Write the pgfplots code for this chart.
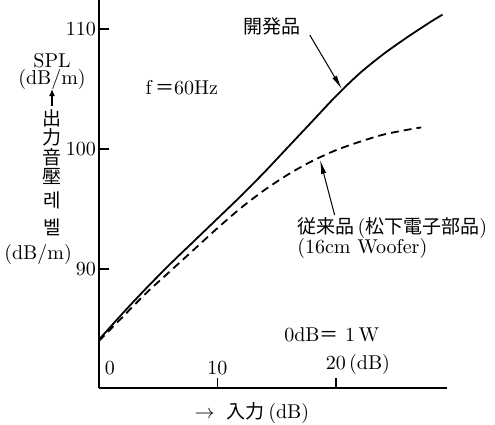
\documentclass[border=0pt]{standalone}
\usepackage{pgfplots}
\pgfplotsset{compat=1.18}
\usepackage{fontspec}
\newfontfamily\cjk[Scale=0.95]{Noto Sans CJK JP}
\usetikzlibrary{arrows.meta}

\begin{document}
\begin{tikzpicture}
\begin{axis}[
    scale only axis,
    width=173.95pt, height=193.85pt,
    xmin=0, xmax=29.36,
    ymin=80.11, ymax=112.42,
    axis x line=bottom, axis y line=left,
    axis line style={-, line width=0.8pt},
    xtick={0,10,20},
    xticklabels={\hspace*{11pt}0, 10, 20\rlap{\,(dB)}},
    ytick={90,100,110},
    tick align=inside,
    major tick length=5pt,
    tick style={line width=0.7pt, black},
    xticklabel style={anchor=south, yshift=3pt},
    yticklabel style={xshift=2pt},
    xlabel={$\rightarrow$\; {\cjk 入力}\,(dB)},
    xlabel style={at={(rel axis cs:0.44,0)}, anchor=center, yshift=-12.6pt},
    clip=false,
]
% new product (solid)
\addplot[black, line width=0.9pt, smooth] coordinates {
    (0,84.1) (2,86.3) (4,88.4) (6,90.4) (8,92.3) (10,94.2)
    (12,96.1) (14,98.1) (16,100.2) (18,102.3) (20,104.4)
    (22,106.3) (24,107.9) (26,109.3) (28,110.6) (29,111.2)};
% conventional product (dashed)
\addplot[black, line width=0.9pt, smooth, dash pattern=on 4pt off 2.5pt] coordinates {
    (0,84.0) (2,86.0) (4,88.0) (6,89.8) (8,91.6) (10,93.4)
    (12,95.1) (14,96.6) (16,97.9) (18,99.0) (20,99.9)
    (22,100.6) (24,101.2) (26,101.6) (27.2,101.8)};

% annotations
\node[font=\cjk] at (axis cs:14.6,110.2) {開発品};
\draw[-{Latex[length=7pt,width=2.6pt]}, line width=0.5pt]
    (axis cs:17.8,109.5) -- (axis cs:20.5,105.0);
\node at (axis cs:7.0,105.1) {f\,{\cjk ＝}60Hz};
\node[anchor=west] at (axis cs:16.15,93.4) {{\cjk 従来品}\,({\cjk 松下電子部品})};
\node[anchor=west] at (axis cs:16.15,91.75) {(16cm Woofer)};
\draw[-{Latex[length=7pt,width=2.6pt]}, line width=0.5pt]
    (axis cs:19.9,94.5) -- (axis cs:18.67,99.1);
\node[anchor=west] at (axis cs:15.05,84.5) {0dB{\cjk ＝} 1\,W};

% y label stack
\begin{scope}[every node/.style={inner sep=0pt}]
\node at (axis cs:-3.95,107.4) {SPL};
\node at (axis cs:-3.95,105.8) {(dB/m)};
\node[font=\cjk] at (axis cs:-3.95,102.6) {出};
\node[font=\cjk] at (axis cs:-3.95,101.0) {力};
\node[font=\cjk] at (axis cs:-3.95,99.3) {音};
\node[font=\cjk] at (axis cs:-3.95,97.7) {壓};
\node[font=\cjk] at (axis cs:-3.95,95.75) {레};
\node[font=\cjk] at (axis cs:-3.95,93.5) {벨};
\node at (axis cs:-5.13,91.2) {(dB/m)};
\end{scope}
\draw[-{Latex[length=3.5pt,width=3pt]}, line width=0.6pt]
    (axis cs:-3.95,103.6) -- (axis cs:-3.95,105.0);

\coordinate (bl) at (axis cs:-8.34,77.08);
\coordinate (tr) at (axis cs:33.43,112.42);
\end{axis}
\pgfresetboundingbox
\path[use as bounding box] (bl) rectangle (tr);
\end{tikzpicture}
\end{document}
